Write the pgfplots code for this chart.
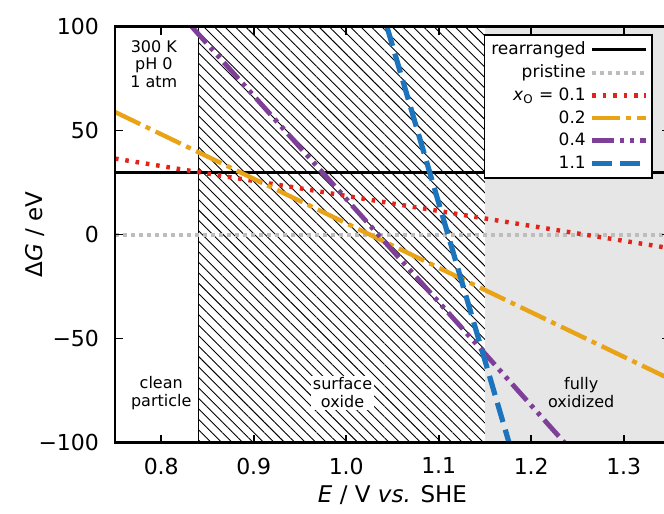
\documentclass[border=0pt]{standalone}
\usepackage{fontspec}
\setmainfont{DejaVu Sans}
\usepackage{pgfplots}
\pgfplotsset{compat=1.18}
\usetikzlibrary{patterns.meta}

\definecolor{cred}{HTML}{E2231A}
\definecolor{corange}{HTML}{E8A317}
\definecolor{cpurple}{HTML}{7E3F98}
\definecolor{cblue}{HTML}{1C75BC}
\definecolor{cgray}{HTML}{BDBDBD}
\definecolor{cfill}{HTML}{E6E6E6}

\begin{document}
\begin{tikzpicture}
\begin{axis}[
  width=277.5pt, height=208pt, scale only axis,
  xmin=0.75, xmax=1.35, ymin=-100, ymax=100,
  xtick={0.8,0.9,1.0,1.1,1.2,1.3},
  xticklabels={0.8,0.9,1.0,1.1,1.2,1.3},
  ytick={-100,-50,0,50,100},
  yticklabels={−100,−50,0,50,100},
  tick align=inside, major tick length=4pt,
  tick style={black, line width=0.8pt},
  axis line style={line width=1.3pt},
  tick label style={font=\fontsize{11}{13}\selectfont},
  xticklabel style={yshift=-4pt},
  yticklabel style={xshift=-4.5pt},
  label style={font=\fontsize{11.5}{13}\selectfont},
  xlabel={\textit{E} / V \textit{vs.} SHE},
  ylabel={Δ\textit{G} / eV},
  xlabel style={at={(axis description cs:0.5,0)}, anchor=center, yshift=-26pt},
  ylabel style={at={(axis description cs:-0.144,0.5)}, anchor=center, rotate=0},
  axis on top,
  legend style={at={(0.969,0.982)}, anchor=north east, draw=black, line width=0.8pt,
    fill=white, font=\fontsize{8.5}{9.5}\selectfont, inner sep=1.5pt, row sep=-0.5pt,
    cells={anchor=east}},
  legend plot pos=right,
  legend cell align=right,
  legend image code/.code={\draw[#1] (0cm,0cm) -- (0.95cm,0cm);},
]
% regions
\addplot[draw=none, fill=cfill, forget plot] coordinates {(1.15,-100) (1.35,-100) (1.35,100) (1.15,100)} -- cycle;
\addplot[draw=none, pattern={Lines[angle=-45,distance=3.7pt,line width=0.45pt]}, pattern color=black, forget plot]
  coordinates {(0.84,-100) (1.15,-100) (1.15,100) (0.84,100)} -- cycle;
\addplot[black, line width=0.5pt, forget plot] coordinates {(0.84,-100) (0.84,100)};

% series
\addplot[black, line width=1.5pt] coordinates {(0.75,30) (1.35,30)};
\addlegendentry{rearranged}
\addplot[cgray, line width=2pt, dash pattern=on 1.8pt off 2.2pt] coordinates {(0.75,0) (1.35,0)};
\addlegendentry{pristine}
\addplot[cred, line width=2.2pt, dash pattern=on 1.8pt off 3.4pt]
  coordinates {(0.75,36.6) (0.84,30.1) (0.95,22.3) (1.05,15.0) (1.15,7.8) (1.25,0.6) (1.35,-6.5)};
\addlegendentry{\textit{x}\textsubscript{O} = 0.1}
\addplot[corange, line width=2.2pt, dash pattern=on 14pt off 3pt on 2.5pt off 3pt]
  coordinates {(0.75,59) (0.84,39.7) (0.95,16.2) (1.05,-5.2) (1.15,-26.6) (1.25,-48) (1.35,-69.4)};
\addlegendentry{0.2}
\addplot[cpurple, line width=2.4pt, dash pattern=on 11pt off 3pt on 2pt off 3pt on 2pt off 3pt]
  coordinates {(0.833,100) (0.95,42) (1.05,-7.6) (1.15,-57.2) (1.236,-100)};
\addlegendentry{0.4}
\addplot[cblue, line width=2.6pt, dash pattern=on 10pt off 4pt]
  coordinates {(1.044,100) (1.1,15.2) (1.176,-100)};
\addlegendentry{1.1}

% annotations
\node[align=center, font=\fontsize{8}{8.6}\selectfont] at (axis cs:0.792,82) {300 K\\pH 0\\1 atm};
\node[align=center, font=\fontsize{8}{9}\selectfont] at (axis cs:0.80,-76) {clean\\particle};
\node[align=center, font=\fontsize{8}{9}\selectfont, fill=white, inner sep=1pt] at (axis cs:0.996,-76) {surface\\oxide};
\node[align=center, font=\fontsize{8}{9}\selectfont] at (axis cs:1.254,-76) {fully\\oxidized};
\end{axis}
\pgfresetboundingbox
\path ([xshift=-57.5pt, yshift=-35.5pt]current axis.south west) rectangle ([xshift=274.5pt, yshift=13.35pt]current axis.north west);
\end{tikzpicture}
\end{document}
